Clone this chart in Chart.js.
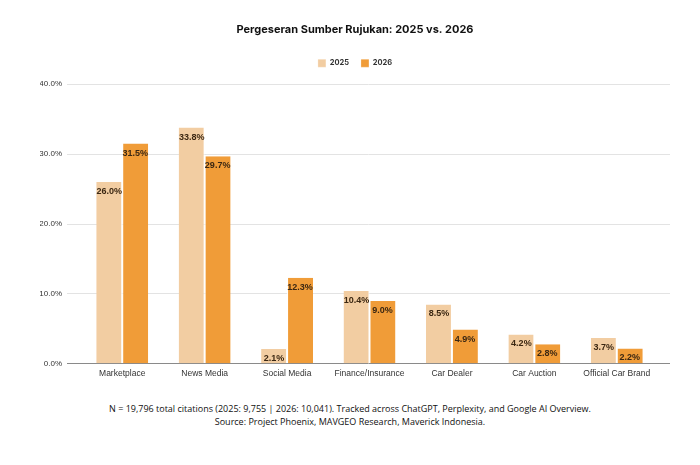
<!DOCTYPE html>
<html>
<head>
<meta charset="utf-8">
<script src="https://cdn.jsdelivr.net/npm/chart.js@4.4.1/dist/chart.umd.min.js"></script>
<style>
  body { margin: 0; background: #fff; }
  #wrap { position: relative; width: 700px; height: 465px; }
  #chartBox { position: absolute; left: 0; top: 0; width: 700px; height: 384px; }
  #note { position: absolute; left: 0; top: 402px; width: 700px; text-align: center;
          font-family: "Open Sans", sans-serif; font-size: 9px; line-height: 13px; color: #111; }
</style>
</head>
<body>
<div id="wrap">
  <div id="chartBox"><canvas id="shiftChart"></canvas></div>
  <div id="note">N = 19,796 total citations (2025: 9,755 | 2026: 10,041). Tracked across ChatGPT, Perplexity, and Google AI Overview.<br>Source: Project Phoenix, MAVGEO Research, Maverick Indonesia.</div>
</div>
<script>
const categories = ["Marketplace", "News Media", "Social Media", "Finance/Insurance", "Car Dealer", "Car Auction", "Official Car Brand"];
const values2025 = [26.0, 33.8, 2.1, 10.4, 8.5, 4.2, 3.7];
const values2026 = [31.5, 29.7, 12.3, 9.0, 4.9, 2.8, 2.2];
const yTicks = [0, 10, 20, 30, 40];

// label di valore dentro la parte alta di ogni barra
const barLabels = {
    id: "barLabels",
    afterDatasetsDraw(chart) {
        const ctx = chart.ctx;
        ctx.save();
        ctx.font = "bold 9px 'Liberation Sans', Arial, sans-serif";
        ctx.fillStyle = "#3b2712";
        ctx.textAlign = "center";
        ctx.textBaseline = "top";
        chart.data.datasets.forEach((ds, i) => {
            chart.getDatasetMeta(i).data.forEach((bar, j) => {
                ctx.fillText(ds.data[j].toFixed(1) + "%", bar.x, bar.y + 5);
            });
        });
        ctx.restore();
    }
};

// le categorie stanno un po' rientrate rispetto alla griglia
const insetX = {
    id: "insetX",
    afterLayout(chart) {
        const s = chart.scales.x;
        s.left += 14;
        s.right -= 12;
        s.width = s.right - s.left;
        s.configure();
    }
};

// piu' spazio tra legenda e grafico
const legendGap = {
    id: "legendGap",
    beforeInit(chart) {
        const fit = chart.legend.fit;
        chart.legend.fit = function () {
            fit.bind(chart.legend)();
            this.height += 7;
        };
    }
};

const ctx = document.getElementById("shiftChart").getContext("2d");
new Chart(ctx, {
    type: "bar",
    data: {
        labels: categories,
        datasets: [
            { label: "2025", data: values2025, backgroundColor: "#f2cda2", borderColor: "#ffffff", borderWidth: { left: 0, right: 1, top: 0, bottom: 0 } },
            { label: "2026", data: values2026, backgroundColor: "#f09c38", borderColor: "#ffffff", borderWidth: { left: 1, right: 0, top: 0, bottom: 0 } }
        ]
    },
    options: {
        responsive: true,
        maintainAspectRatio: false,
        animation: false,
        layout: { padding: { left: 40, right: 30, top: 0, bottom: 0 } },
        datasets: { bar: { categoryPercentage: 0.63, barPercentage: 1.0 } },
        plugins: {
            title: {
                display: true,
                text: "Pergeseran Sumber Rujukan: 2025 vs. 2026",
                color: "#111",
                font: { family: "Inter, sans-serif", size: 11, weight: "bold" },
                padding: { top: 23, bottom: 11 }
            },
            legend: {
                position: "top",
                labels: {
                    boxWidth: 8, boxHeight: 8, padding: 12,
                    color: "#333",
                    font: { family: "Inter, sans-serif", size: 7.5, weight: "bold" }
                }
            },
            tooltip: { enabled: false }
        },
        scales: {
            x: {
                grid: { display: false, drawTicks: false },
                border: { display: false },
                ticks: { color: "#333", font: { family: "'Liberation Sans', Arial, sans-serif", size: 8.5 }, padding: 5 }
            },
            y: {
                min: 0, max: 40,
                afterBuildTicks: axis => { axis.ticks = yTicks.map(v => ({ value: v })); },
                afterFit: axis => { axis.width = 27; },
                grid: { color: ctx => ctx.tick.value === 0 ? "#8a8a8a" : "#e3e3e3", drawTicks: false },
                border: { display: false },
                ticks: {
                    color: "#333", padding: 5,
                    font: { family: "'Liberation Sans', Arial, sans-serif", size: 8 },
                    callback: v => v.toFixed(1) + "%"
                }
            }
        }
    },
    plugins: [barLabels, insetX, legendGap]
});
</script>
</body>
</html>
